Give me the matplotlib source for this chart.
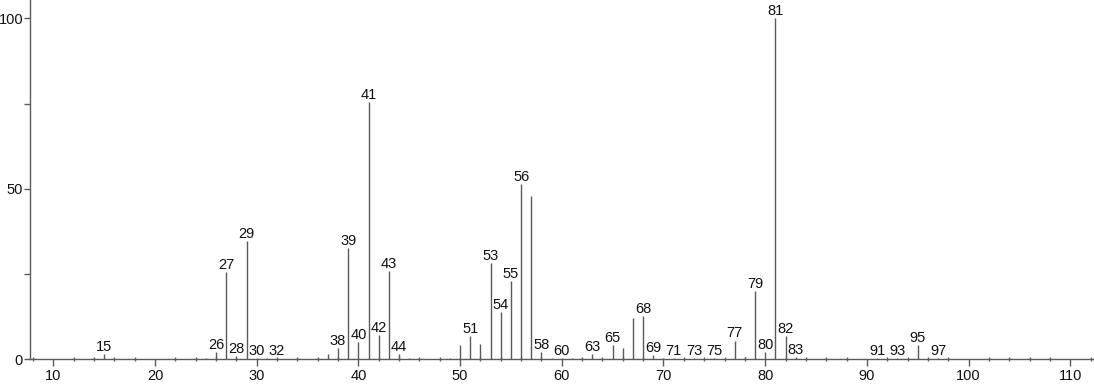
import matplotlib
matplotlib.use("Agg")
import matplotlib.pyplot as plt
from matplotlib.ticker import MultipleLocator, FixedLocator

plt.rcParams['font.family'] = ['Liberation Sans', 'DejaVu Sans']

# m/z values and relative intensities
mz = [15, 25, 26, 27, 28, 29, 30, 31, 32, 37, 38, 39, 40, 41, 42, 43, 44, 45,
      49, 50, 51, 52, 53, 54, 55, 56, 57, 58, 59, 60, 61, 63, 65, 66, 67, 68,
      69, 70, 71, 73, 75, 77, 78, 79, 80, 81, 82, 83, 91, 93, 95, 96, 97]
intensity = [1.5, 0.5, 2.0, 25.5, 1.0, 34.8, 0.5, 0.3, 0.4, 1.5, 3.2, 32.6, 5.2,
             75.4, 7.0, 26.0, 1.5, 0.3, 0.4, 4.2, 6.8, 4.5, 28.3, 14.0, 23.0,
             51.3, 47.9, 2.0, 0.3, 0.4, 0.3, 1.5, 4.2, 3.2, 12.2, 12.7, 1.3,
             0.5, 0.5, 0.4, 0.4, 5.5, 0.8, 20.0, 2.0, 100.0, 6.8, 0.6, 0.5,
             0.4, 4.2, 0.3, 0.4]
labeled = [15, 26, 27, 28, 29, 30, 32, 38, 39, 40, 41, 42, 43, 44, 51, 53, 54,
           55, 56, 58, 60, 63, 65, 68, 69, 71, 73, 75, 77, 79, 80, 81, 82, 83,
           91, 93, 95, 97]
x_major = [10, 20, 30, 40, 50, 60, 70, 80, 90, 100, 110]
y_major = [0, 50, 100]
y_minor = [25, 75]

W, H = 1094, 384
fig = plt.figure(figsize=(W / 100, H / 100), dpi=100)
left = 30 / W
bottom = (H - 359.3) / H
ax = fig.add_axes([left, bottom, 1 - left, 1 - bottom])

line_color = '#5a5a5a'
ax.vlines(mz, 0, intensity, colors=line_color, linewidth=1.0)

lookup = dict(zip(mz, intensity))
for m in labeled:
    ax.annotate(str(m), xy=(m, lookup[m]), xytext=(0, 2.2),
                textcoords='offset points', ha='center', va='baseline',
                fontsize=10.5, color='#111111')

ax.set_xlim(7.71, 112.33)
ax.set_ylim(0, 105.4)

ax.xaxis.set_major_locator(FixedLocator(x_major))
ax.xaxis.set_minor_locator(MultipleLocator(2))
ax.yaxis.set_major_locator(FixedLocator(y_major))
ax.yaxis.set_minor_locator(FixedLocator(y_minor))

for s in ['top', 'right']:
    ax.spines[s].set_visible(False)
for s in ['left', 'bottom']:
    ax.spines[s].set_color(line_color)
    ax.spines[s].set_linewidth(1.0)

ax.tick_params(axis='x', which='major', direction='out', length=4.8,
               width=1.0, color=line_color, labelsize=10.5, pad=2.5,
               labelcolor='#111111')
ax.tick_params(axis='x', which='minor', direction='inout', length=3.2,
               width=1.0, color=line_color)
ax.tick_params(axis='y', which='major', direction='out', length=4.0,
               width=1.0, color=line_color, labelsize=10.5, pad=1.0,
               labelcolor='#111111')
ax.tick_params(axis='y', which='minor', direction='out', length=4.0,
               width=1.0, color=line_color)

ax.set_facecolor('white')
fig.savefig('out.png', dpi=100, facecolor='white')
